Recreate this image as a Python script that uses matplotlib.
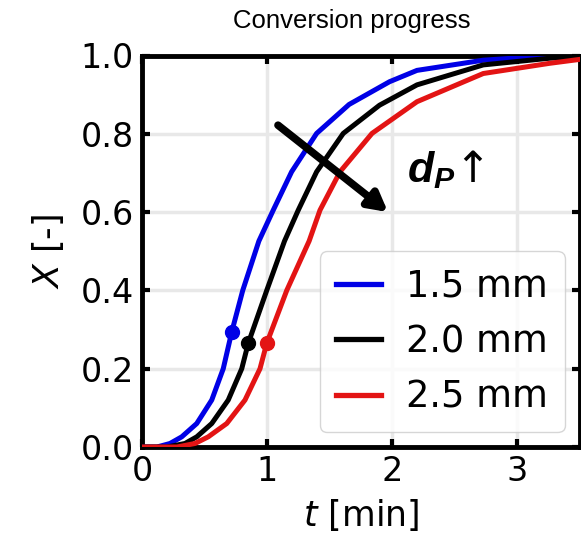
import matplotlib
matplotlib.use("Agg")
import matplotlib.pyplot as plt

# ---- data ----
labels = ["1.5 mm", "2.0 mm", "2.5 mm"]
colors = ["#0000e6", "black", "#e31414"]

t_15 = [0.0, 0.12, 0.224, 0.318, 0.438, 0.558, 0.650, 0.718, 0.806, 0.935, 1.05,
        1.197, 1.397, 1.657, 1.98, 2.20, 2.73, 3.1, 3.5]
X_15 = [0.0, 0.0, 0.009, 0.026, 0.060, 0.12, 0.20, 0.294, 0.40, 0.526, 0.605,
        0.703, 0.801, 0.875, 0.933, 0.962, 0.988, 0.996, 1.0]

t_20 = [0.0, 0.20, 0.344, 0.438, 0.558, 0.690, 0.798, 0.850, 0.998, 1.14, 1.25,
        1.397, 1.61, 1.90, 2.20, 2.73, 3.26, 3.5]
X_20 = [0.0, 0.0, 0.009, 0.026, 0.060, 0.12, 0.20, 0.265, 0.40, 0.526, 0.605,
        0.703, 0.801, 0.873, 0.925, 0.976, 0.993, 0.997]

t_25 = [0.0, 0.28, 0.424, 0.530, 0.678, 0.824, 0.944, 0.998, 1.158, 1.337, 1.424,
        1.584, 1.84, 2.20, 2.73, 3.26, 3.5]
X_25 = [0.0, 0.0, 0.009, 0.026, 0.060, 0.12, 0.20, 0.265, 0.40, 0.526, 0.605,
        0.703, 0.801, 0.882, 0.954, 0.980, 0.990]

marker_t = [0.718, 0.850, 0.998]
marker_X = [0.294, 0.265, 0.265]

xticks = [0, 1, 2, 3]
yticks = [0.0, 0.2, 0.4, 0.6, 0.8, 1.0]

plt.rcParams['mathtext.fontset'] = 'custom'
plt.rcParams['mathtext.bfit'] = 'Liberation Sans:bold:italic'
plt.rcParams['mathtext.it'] = 'DejaVu Sans:italic'
plt.rcParams['mathtext.rm'] = 'DejaVu Sans'

fig = plt.figure(figsize=(5.81, 5.42), dpi=100)
ax = fig.add_axes([142 / 581, 1 - 447 / 542, 437.5 / 581, 391.5 / 542])

series = [(t_15, X_15), (t_20, X_20), (t_25, X_25)]
for (t, X), c, lab in zip(series, colors, labels):
    ax.plot(t, X, color=c, lw=3.6, label=lab, solid_joinstyle='round', zorder=3)
for mt, mx, c in zip(marker_t, marker_X, colors):
    ax.plot([mt], [mx], 'o', color=c, ms=10, zorder=4)

ax.set_xlim(0, 3.5)
ax.set_ylim(0, 1.0)
ax.set_xticks(xticks)
ax.set_yticks(yticks)
ax.set_xticklabels([str(v) for v in xticks])
ax.set_yticklabels([f"{v:.1f}" for v in yticks])
ax.grid(True, color='#e8e8e8', lw=2.5, zorder=0)
ax.set_axisbelow(True)
for s in ax.spines.values():
    s.set_linewidth(3.5)
ax.tick_params(direction='in', length=6, width=3, labelsize=24, pad=6,
               top=True, right=True)

ax.set_xlabel(r'$t$ [min]', fontsize=25, labelpad=6)
ax.set_ylabel(r'$X$ [-]', fontsize=25, labelpad=10)
ax.set_title('Conversion progress', fontsize=18.5, family='Liberation Sans',
             x=0.48, pad=20)

leg = ax.legend(loc='lower right', fontsize=26.5, handlelength=1.2,
                framealpha=0.8, borderpad=0.45, labelspacing=0.5,
                handletextpad=0.7, borderaxespad=0.4)
for line in leg.get_lines():
    line.set_linewidth(3.8)

ax.annotate('', xy=(1.968, 0.600), xytext=(1.088, 0.822),
            arrowprops=dict(arrowstyle='-|>,head_width=0.6,head_length=1.1',
                            lw=5.5, color='black', shrinkA=0, shrinkB=0),
            zorder=5)
ax.text(2.12, 0.677, r'$\mathbfit{d}_{\mathbfit{P}}$' + '\u2191', fontsize=31,
        family=['DejaVu Sans'], zorder=5)

fig.savefig('out.png', dpi=100)
